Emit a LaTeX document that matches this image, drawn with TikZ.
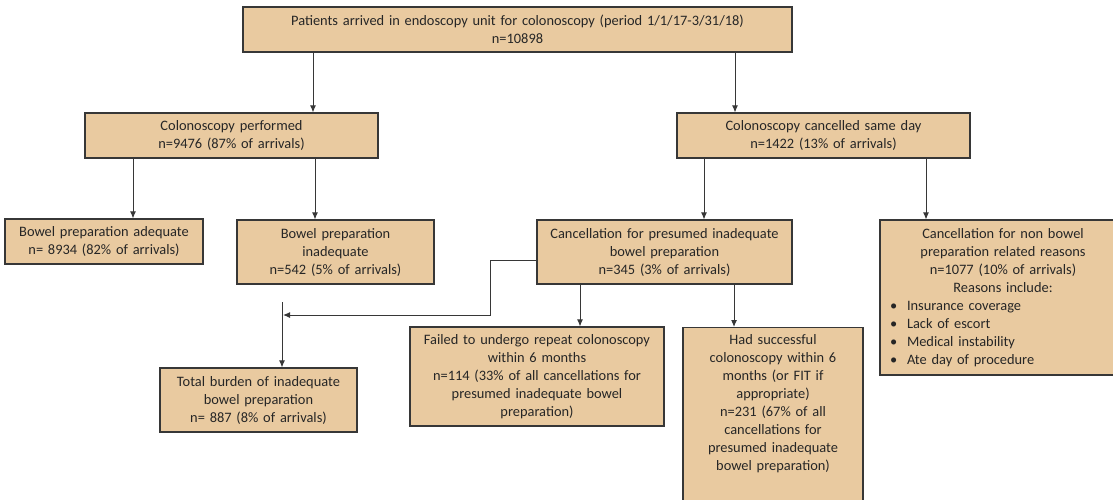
\documentclass[tikz,border=0pt]{standalone}
\usepackage{fontspec}
\setmainfont{Carlito}
\usetikzlibrary{arrows.meta}
\definecolor{boxtan}{RGB}{233,202,160}
\definecolor{linegray}{RGB}{55,55,55}
\newcommand{\reasonitem}[1]{\makebox[240pt][l]{\hspace{7pt}\makebox[17pt][l]{\textbullet}#1}}
\begin{document}
\begin{tikzpicture}[x=1pt,y=-1pt,
	box/.style={draw=linegray, line width=1.1pt, fill=boxtan, align=center, inner sep=3pt, text=black!85, font=\fontsize{14.4}{18}\selectfont},
	arr/.style={draw=linegray, line width=1pt, -{Latex[length=7pt,width=6pt]}},
	link/.style={draw=linegray, line width=1pt}]
	\useasboundingbox (0,0) rectangle (1113,499);
	\clip (0,0) rectangle (1113,499);
	\node (arrive) at (517.5, 29.5)	[box, minimum width=549pt, minimum height=45pt, text width=543pt]	{Patients arrived in endoscopy unit for colonoscopy (period 1/1/17-3/31/18)\\ n=10898};
	\node (performed) at (231.5, 135.5)	[box, minimum width=293pt, minimum height=45pt, text width=287pt]	{Colonoscopy performed\\ n=9476 (87\% of arrivals)};
	\node (cancelled) at (823.5, 135.5)	[box, minimum width=293pt, minimum height=45pt, text width=287pt]	{Colonoscopy cancelled same day\\ n=1422 (13\% of arrivals)};
	\node (adequate) at (104, 241.5)	[box, minimum width=198pt, minimum height=45pt, text width=192pt]	{Bowel preparation adequate\\ n= 8934 (82\% of arrivals)};
	\node (inadequate) at (335.5, 252)	[box, minimum width=197pt, minimum height=64pt, text width=191pt]	{Bowel preparation\\ inadequate\\ n=542 (5\% of arrivals)};
	\node (presumed) at (664.5, 252)	[box, minimum width=255pt, minimum height=64pt, text width=249pt]	{Cancellation for presumed inadequate\\ bowel preparation\\ n=345 (3\% of arrivals)};
	\node (nonbowel) at (1003, 297.5)	[box, minimum width=246pt, minimum height=155pt, text width=240pt]	{Cancellation for non bowel\\ preparation related reasons\\ n=1077 (10\% of arrivals)\\ Reasons include:\\ \reasonitem{Insurance coverage}\\ \reasonitem{Lack of escort}\\ \reasonitem{Medical instability}\\ \reasonitem{Ate day of procedure}};
	\node (burden) at (258.5, 400)	[box, minimum width=197pt, minimum height=64pt, text width=191pt]	{Total burden of inadequate\\ bowel preparation\\ n= 887 (8\% of arrivals)};
	\node (failed) at (537, 376.5)	[box, minimum width=254pt, minimum height=99pt, text width=248pt]	{Failed to undergo repeat colonoscopy\\ within 6 months\\ n=114 (33\% of all cancellations for\\ presumed inadequate bowel\\ preparation)};
	\node (success) at (773, 327)	[box, anchor=north, minimum width=180pt, text width=174pt, text height=14pt, text depth=158pt]	{Had successful\\ colonoscopy within 6\\ months (or FIT if\\ appropriate)\\ n=231 (67\% of all\\ cancellations for\\ presumed inadequate\\ bowel preparation)};
	\coordinate (bend) at (490, 260);
	\coordinate (join) at (283, 315);
	\coordinate (jtop) at (282, 302);
	\draw[arr] (arrive.south -| 313,0) -- (performed.north -| 313,0);
	\draw[arr] (arrive.south -| 735,0) -- (cancelled.north -| 735,0);
	\draw[arr] (performed.south -| 133,0) -- (adequate.north -| 133,0);
	\draw[arr] (performed.south -| 315,0) -- (inadequate.north -| 315,0);
	\draw[arr] (cancelled.south -| 704,0) -- (presumed.north -| 704,0);
	\draw[arr] (cancelled.south -| 926,0) -- (nonbowel.north -| 926,0);
	\draw[arr] (presumed.south -| 580,0) -- (failed.north -| 580,0);
	\draw[arr] (presumed.south -| 734,0) -- (success.north -| 734,0);
	\draw[arr] (presumed.west |- bend) -- (bend) |- (join);
	\draw[arr] (jtop) -- (burden.north -| jtop);
\end{tikzpicture}
\end{document}
